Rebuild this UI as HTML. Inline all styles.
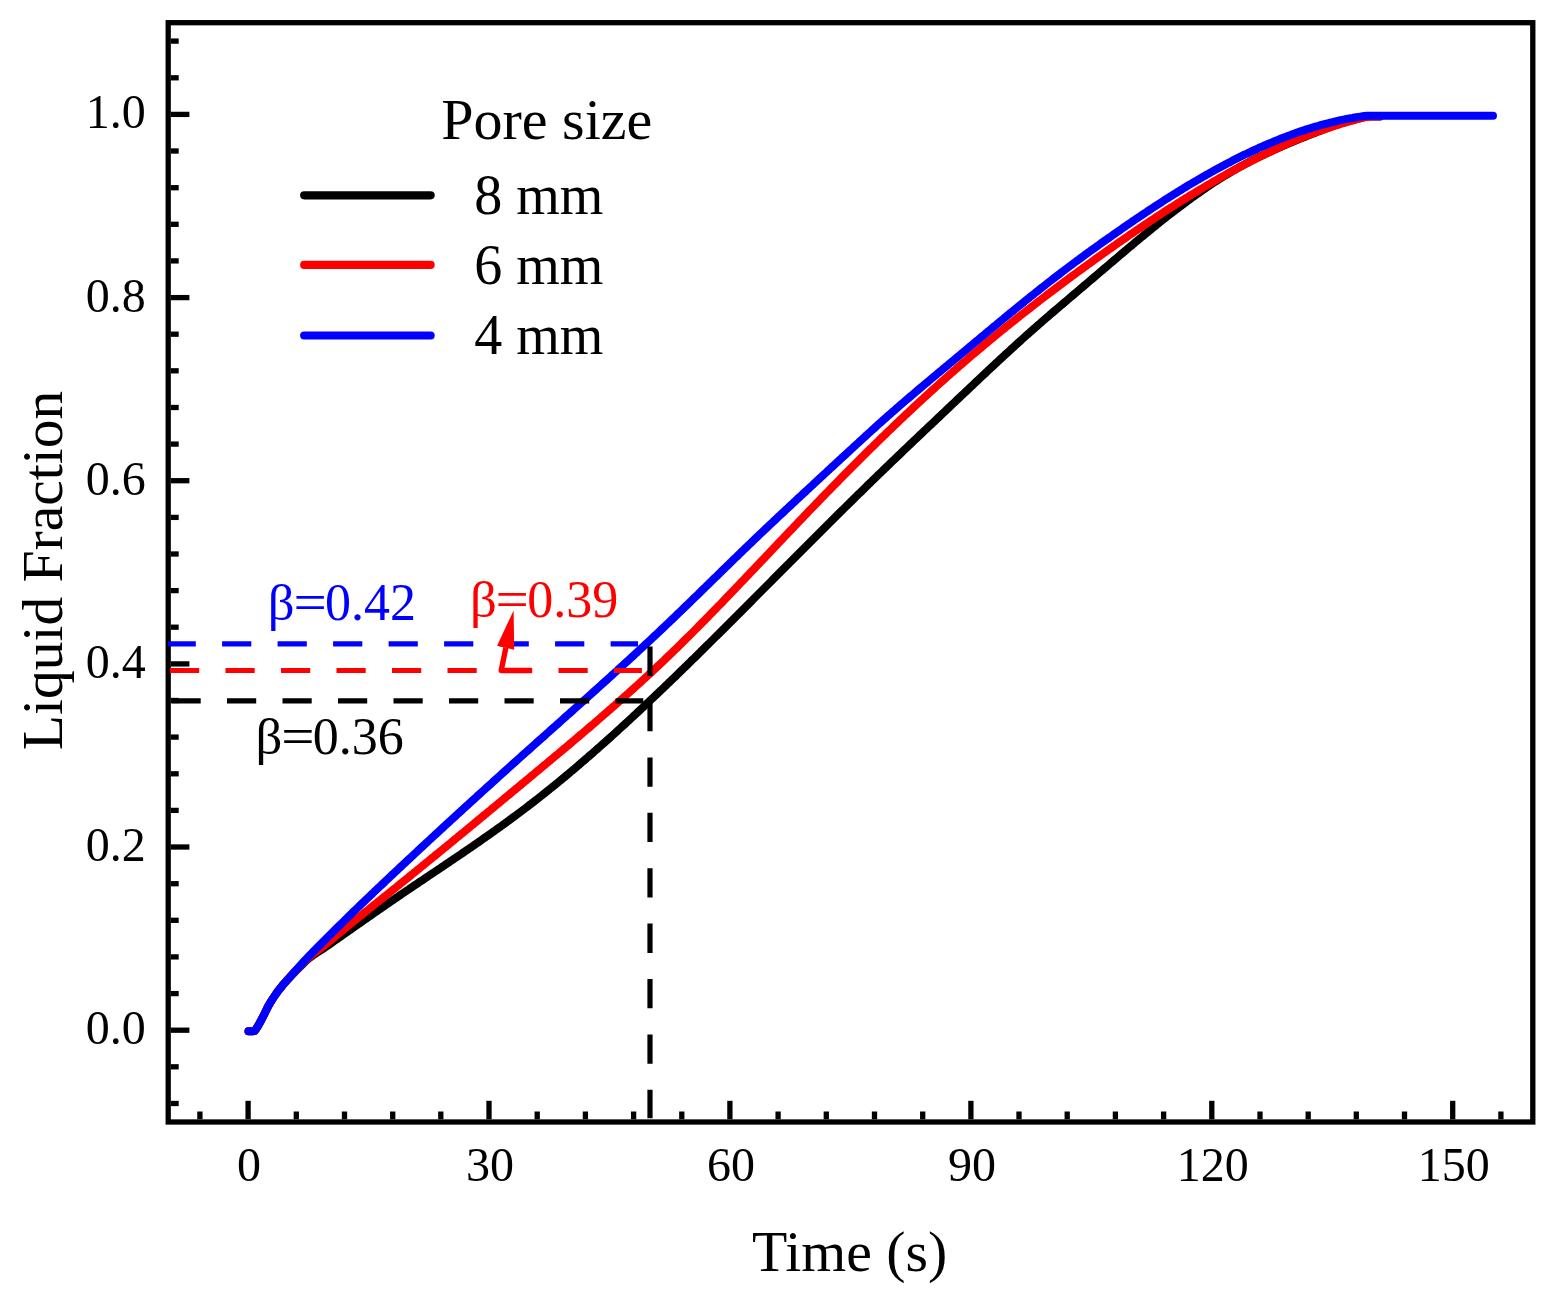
<!DOCTYPE html>
<html lang="en">
<head>
<meta charset="utf-8">
<title>Liquid Fraction vs Time</title>
<style>
html,body{margin:0;padding:0;background:#fff;}
body{width:1547px;height:1304px;overflow:hidden;}
svg{display:block;}
</style>
</head>
<body>
<svg width="1547" height="1304" viewBox="0 0 1547 1304">
<rect width="1547" height="1304" fill="#fff"/>
<g stroke="#000" stroke-width="5.3" fill="none">
<line x1="170.8" y1="1103.5" x2="178.7" y2="1103.5"/>
<line x1="170.8" y1="1066.8" x2="178.7" y2="1066.8"/>
<line x1="170.8" y1="1030.2" x2="189.4" y2="1030.2"/>
<line x1="170.8" y1="993.6" x2="178.7" y2="993.6"/>
<line x1="170.8" y1="956.9" x2="178.7" y2="956.9"/>
<line x1="170.8" y1="920.3" x2="178.7" y2="920.3"/>
<line x1="170.8" y1="883.7" x2="178.7" y2="883.7"/>
<line x1="170.8" y1="847.0" x2="189.4" y2="847.0"/>
<line x1="170.8" y1="810.4" x2="178.7" y2="810.4"/>
<line x1="170.8" y1="773.8" x2="178.7" y2="773.8"/>
<line x1="170.8" y1="737.1" x2="178.7" y2="737.1"/>
<line x1="170.8" y1="700.5" x2="178.7" y2="700.5"/>
<line x1="170.8" y1="663.9" x2="189.4" y2="663.9"/>
<line x1="170.8" y1="627.2" x2="178.7" y2="627.2"/>
<line x1="170.8" y1="590.6" x2="178.7" y2="590.6"/>
<line x1="170.8" y1="554.0" x2="178.7" y2="554.0"/>
<line x1="170.8" y1="517.4" x2="178.7" y2="517.4"/>
<line x1="170.8" y1="480.7" x2="189.4" y2="480.7"/>
<line x1="170.8" y1="444.1" x2="178.7" y2="444.1"/>
<line x1="170.8" y1="407.5" x2="178.7" y2="407.5"/>
<line x1="170.8" y1="370.8" x2="178.7" y2="370.8"/>
<line x1="170.8" y1="334.2" x2="178.7" y2="334.2"/>
<line x1="170.8" y1="297.6" x2="189.4" y2="297.6"/>
<line x1="170.8" y1="260.9" x2="178.7" y2="260.9"/>
<line x1="170.8" y1="224.3" x2="178.7" y2="224.3"/>
<line x1="170.8" y1="187.7" x2="178.7" y2="187.7"/>
<line x1="170.8" y1="151.0" x2="178.7" y2="151.0"/>
<line x1="170.8" y1="114.4" x2="189.4" y2="114.4"/>
<line x1="170.8" y1="77.8" x2="178.7" y2="77.8"/>
<line x1="170.8" y1="41.1" x2="178.7" y2="41.1"/>
<line x1="199.9" y1="1119.3" x2="199.9" y2="1111.5"/>
<line x1="248.1" y1="1119.3" x2="248.1" y2="1100.8"/>
<line x1="296.3" y1="1119.3" x2="296.3" y2="1111.5"/>
<line x1="344.5" y1="1119.3" x2="344.5" y2="1111.5"/>
<line x1="392.7" y1="1119.3" x2="392.7" y2="1111.5"/>
<line x1="440.8" y1="1119.3" x2="440.8" y2="1111.5"/>
<line x1="489.0" y1="1119.3" x2="489.0" y2="1100.8"/>
<line x1="537.2" y1="1119.3" x2="537.2" y2="1111.5"/>
<line x1="585.4" y1="1119.3" x2="585.4" y2="1111.5"/>
<line x1="633.6" y1="1119.3" x2="633.6" y2="1111.5"/>
<line x1="681.8" y1="1119.3" x2="681.8" y2="1111.5"/>
<line x1="729.9" y1="1119.3" x2="729.9" y2="1100.8"/>
<line x1="778.1" y1="1119.3" x2="778.1" y2="1111.5"/>
<line x1="826.3" y1="1119.3" x2="826.3" y2="1111.5"/>
<line x1="874.5" y1="1119.3" x2="874.5" y2="1111.5"/>
<line x1="922.7" y1="1119.3" x2="922.7" y2="1111.5"/>
<line x1="970.9" y1="1119.3" x2="970.9" y2="1100.8"/>
<line x1="1019.0" y1="1119.3" x2="1019.0" y2="1111.5"/>
<line x1="1067.2" y1="1119.3" x2="1067.2" y2="1111.5"/>
<line x1="1115.4" y1="1119.3" x2="1115.4" y2="1111.5"/>
<line x1="1163.6" y1="1119.3" x2="1163.6" y2="1111.5"/>
<line x1="1211.8" y1="1119.3" x2="1211.8" y2="1100.8"/>
<line x1="1260.0" y1="1119.3" x2="1260.0" y2="1111.5"/>
<line x1="1308.2" y1="1119.3" x2="1308.2" y2="1111.5"/>
<line x1="1356.3" y1="1119.3" x2="1356.3" y2="1111.5"/>
<line x1="1404.5" y1="1119.3" x2="1404.5" y2="1111.5"/>
<line x1="1452.7" y1="1119.3" x2="1452.7" y2="1100.8"/>
<line x1="1500.9" y1="1119.3" x2="1500.9" y2="1111.5"/>
</g>
<path d="M248.5,1031.2 L250.5,1031.2 L252.5,1031.2 L254.5,1030.9 L256.5,1028.4 L258.5,1025.2 L260.5,1021.5 L262.5,1017.7 L264.5,1013.8 L266.5,1009.6 L268.5,1005.7 L270.5,1002.3 L272.5,999.1 L274.5,996.1 L276.5,993.2 L278.5,990.4 L280.5,987.9 L282.5,985.4 L284.5,983.1 L286.5,980.8 L288.5,978.7 L290.5,976.6 L292.5,974.5 L294.5,972.4 L296.5,970.3 L298.5,968.3 L300.5,966.3 L302.5,964.3 L304.5,962.3 L306.5,960.4 L308.5,958.7 L310.5,957.1 L312.5,955.7 L314.5,954.3 L316.5,953.0 L318.5,951.7 L320.5,950.4 L322.5,949.1 L324.5,947.8 L326.5,946.4 L328.5,945.1 L330.5,943.7 L332.5,942.2 L334.5,940.8 L336.5,939.4 L338.5,938.0 L340.5,936.6 L342.5,935.2 L344.5,933.8 L346.5,932.4 L348.5,931.0 L350.5,929.6 L352.5,928.2 L354.5,926.8 L356.5,925.4 L358.5,924.0 L360.5,922.6 L362.5,921.2 L364.5,919.8 L366.5,918.4 L368.5,917.0 L370.5,915.6 L372.5,914.2 L374.5,912.8 L376.5,911.4 L378.5,910.0 L380.5,908.6 L382.5,907.3 L384.5,905.9 L386.5,904.5 L388.5,903.1 L390.5,901.7 L392.5,900.4 L394.5,899.0 L396.5,897.6 L398.5,896.3 L400.5,894.9 L402.5,893.5 L404.5,892.2 L406.5,890.8 L408.5,889.5 L410.5,888.1 L412.5,886.8 L414.5,885.4 L416.5,884.1 L418.5,882.7 L420.5,881.4 L422.5,880.1 L424.5,878.7 L426.5,877.4 L428.5,876.0 L430.5,874.7 L432.5,873.3 L434.5,872.0 L436.5,870.7 L438.5,869.3 L440.5,868.0 L442.5,866.6 L444.5,865.3 L446.5,863.9 L448.5,862.6 L450.5,861.2 L452.5,859.9 L454.5,858.5 L456.5,857.2 L458.5,855.8 L460.5,854.5 L462.5,853.1 L464.5,851.7 L466.5,850.4 L468.5,849.0 L470.5,847.6 L472.5,846.3 L474.5,844.9 L476.5,843.5 L478.5,842.1 L480.5,840.7 L482.5,839.3 L484.5,837.9 L486.5,836.5 L488.5,835.1 L490.5,833.7 L492.5,832.3 L494.5,830.9 L496.5,829.4 L498.5,828.0 L500.5,826.6 L502.5,825.1 L504.5,823.7 L506.5,822.2 L508.5,820.8 L510.5,819.3 L512.5,817.8 L514.5,816.4 L516.5,814.9 L518.5,813.4 L520.5,811.9 L522.5,810.4 L524.5,808.9 L526.5,807.4 L528.5,805.8 L530.5,804.3 L532.5,802.7 L534.5,801.2 L536.5,799.6 L538.5,798.1 L540.5,796.5 L542.5,794.9 L544.5,793.3 L546.5,791.7 L548.5,790.1 L550.5,788.5 L552.5,786.9 L554.5,785.3 L556.5,783.7 L558.5,782.0 L560.5,780.4 L562.5,778.7 L564.5,777.1 L566.5,775.4 L568.5,773.7 L570.5,772.0 L572.5,770.4 L574.5,768.7 L576.5,767.0 L578.5,765.3 L580.5,763.5 L582.5,761.8 L584.5,760.1 L586.5,758.4 L588.5,756.6 L590.5,754.9 L592.5,753.2 L594.5,751.4 L596.5,749.6 L598.5,747.9 L600.5,746.1 L602.5,744.3 L604.5,742.6 L606.5,740.8 L608.5,739.0 L610.5,737.2 L612.5,735.4 L614.5,733.6 L616.5,731.8 L618.5,729.9 L620.5,728.1 L622.5,726.3 L624.5,724.5 L626.5,722.6 L628.5,720.8 L630.5,718.9 L632.5,717.1 L634.5,715.2 L636.5,713.4 L638.5,711.5 L640.5,709.6 L642.5,707.8 L644.5,705.9 L646.5,704.0 L648.5,702.1 L650.5,700.2 L652.5,698.3 L654.5,696.4 L656.5,694.5 L658.5,692.6 L660.5,690.7 L662.5,688.8 L664.5,686.9 L666.5,685.0 L668.5,683.0 L670.5,681.1 L672.5,679.2 L674.5,677.3 L676.5,675.3 L678.5,673.4 L680.5,671.4 L682.5,669.5 L684.5,667.5 L686.5,665.6 L688.5,663.6 L690.5,661.7 L692.5,659.7 L694.5,657.8 L696.5,655.8 L698.5,653.8 L700.5,651.9 L702.5,649.9 L704.5,647.9 L706.5,645.9 L708.5,644.0 L710.5,642.0 L712.5,640.0 L714.5,638.0 L716.5,636.0 L718.5,634.1 L720.5,632.1 L722.5,630.1 L724.5,628.1 L726.5,626.1 L728.5,624.1 L730.5,622.1 L732.5,620.1 L734.5,618.1 L736.5,616.1 L738.5,614.1 L740.5,612.1 L742.5,610.1 L744.5,608.1 L746.5,606.1 L748.5,604.1 L750.5,602.1 L752.5,600.1 L754.5,598.0 L756.5,596.0 L758.5,594.0 L760.5,592.0 L762.5,590.0 L764.5,588.0 L766.5,586.0 L768.5,584.0 L770.5,582.0 L772.5,579.9 L774.5,577.9 L776.5,575.9 L778.5,573.9 L780.5,571.9 L782.5,569.9 L784.5,567.9 L786.5,565.9 L788.5,563.9 L790.5,561.8 L792.5,559.8 L794.5,557.8 L796.5,555.8 L798.5,553.8 L800.5,551.8 L802.5,549.8 L804.5,547.8 L806.5,545.8 L808.5,543.8 L810.5,541.8 L812.5,539.8 L814.5,537.8 L816.5,535.8 L818.5,533.8 L820.5,531.8 L822.5,529.8 L824.5,527.8 L826.5,525.8 L828.5,523.8 L830.5,521.9 L832.5,519.9 L834.5,517.9 L836.5,515.9 L838.5,513.9 L840.5,511.9 L842.5,510.0 L844.5,508.0 L846.5,506.0 L848.5,504.1 L850.5,502.1 L852.5,500.1 L854.5,498.1 L856.5,496.2 L858.5,494.2 L860.5,492.3 L862.5,490.3 L864.5,488.3 L866.5,486.4 L868.5,484.4 L870.5,482.5 L872.5,480.5 L874.5,478.6 L876.5,476.7 L878.5,474.7 L880.5,472.8 L882.5,470.9 L884.5,468.9 L886.5,467.0 L888.5,465.1 L890.5,463.1 L892.5,461.2 L894.5,459.3 L896.5,457.4 L898.5,455.5 L900.5,453.6 L902.5,451.6 L904.5,449.7 L906.5,447.8 L908.5,445.9 L910.5,444.0 L912.5,442.1 L914.5,440.2 L916.5,438.3 L918.5,436.4 L920.5,434.5 L922.5,432.6 L924.5,430.7 L926.5,428.8 L928.5,426.9 L930.5,425.0 L932.5,423.2 L934.5,421.3 L936.5,419.4 L938.5,417.5 L940.5,415.6 L942.5,413.7 L944.5,411.8 L946.5,409.9 L948.5,408.0 L950.5,406.1 L952.5,404.2 L954.5,402.3 L956.5,400.4 L958.5,398.5 L960.5,396.6 L962.5,394.7 L964.5,392.9 L966.5,391.0 L968.5,389.1 L970.5,387.2 L972.5,385.3 L974.5,383.4 L976.5,381.5 L978.5,379.6 L980.5,377.7 L982.5,375.8 L984.5,374.0 L986.5,372.1 L988.5,370.2 L990.5,368.3 L992.5,366.5 L994.5,364.6 L996.5,362.7 L998.5,360.9 L1000.5,359.0 L1002.5,357.2 L1004.5,355.3 L1006.5,353.5 L1008.5,351.7 L1010.5,349.8 L1012.5,348.0 L1014.5,346.2 L1016.5,344.3 L1018.5,342.5 L1020.5,340.7 L1022.5,338.9 L1024.5,337.1 L1026.5,335.3 L1028.5,333.6 L1030.5,331.8 L1032.5,330.0 L1034.5,328.2 L1036.5,326.5 L1038.5,324.7 L1040.5,323.0 L1042.5,321.2 L1044.5,319.5 L1046.5,317.8 L1048.5,316.1 L1050.5,314.3 L1052.5,312.6 L1054.5,310.9 L1056.5,309.2 L1058.5,307.5 L1060.5,305.8 L1062.5,304.1 L1064.5,302.4 L1066.5,300.7 L1068.5,299.0 L1070.5,297.3 L1072.5,295.6 L1074.5,293.9 L1076.5,292.2 L1078.5,290.5 L1080.5,288.8 L1082.5,287.1 L1084.5,285.4 L1086.5,283.7 L1088.5,282.0 L1090.5,280.3 L1092.5,278.6 L1094.5,276.9 L1096.5,275.2 L1098.5,273.5 L1100.5,271.8 L1102.5,270.1 L1104.5,268.4 L1106.5,266.7 L1108.5,265.0 L1110.5,263.3 L1112.5,261.6 L1114.5,259.9 L1116.5,258.2 L1118.5,256.5 L1120.5,254.8 L1122.5,253.1 L1124.5,251.4 L1126.5,249.7 L1128.5,248.0 L1130.5,246.4 L1132.5,244.7 L1134.5,243.0 L1136.5,241.3 L1138.5,239.7 L1140.5,238.0 L1142.5,236.4 L1144.5,234.7 L1146.5,233.1 L1148.5,231.4 L1150.5,229.8 L1152.5,228.2 L1154.5,226.6 L1156.5,224.9 L1158.5,223.3 L1160.5,221.7 L1162.5,220.1 L1164.5,218.6 L1166.5,217.0 L1168.5,215.4 L1170.5,213.9 L1172.5,212.3 L1174.5,210.8 L1176.5,209.2 L1178.5,207.7 L1180.5,206.2 L1182.5,204.7 L1184.5,203.2 L1186.5,201.7 L1188.5,200.3 L1190.5,198.8 L1192.5,197.3 L1194.5,195.9 L1196.5,194.5 L1198.5,193.1 L1200.5,191.7 L1202.5,190.3 L1204.5,188.9 L1206.5,187.5 L1208.5,186.2 L1210.5,184.8 L1212.5,183.5 L1214.5,182.2 L1216.5,180.9 L1218.5,179.6 L1220.5,178.4 L1222.5,177.1 L1224.5,175.9 L1226.5,174.7 L1228.5,173.5 L1230.5,172.3 L1232.5,171.1 L1234.5,170.0 L1236.5,168.8 L1238.5,167.7 L1240.5,166.6 L1242.5,165.5 L1244.5,164.4 L1246.5,163.3 L1248.5,162.3 L1250.5,161.2 L1252.5,160.2 L1254.5,159.2 L1256.5,158.2 L1258.5,157.2 L1260.5,156.2 L1262.5,155.3 L1264.5,154.3 L1266.5,153.4 L1268.5,152.4 L1270.5,151.5 L1272.5,150.6 L1274.5,149.7 L1276.5,148.8 L1278.5,147.9 L1280.5,147.0 L1282.5,146.1 L1284.5,145.3 L1286.5,144.4 L1288.5,143.6 L1290.5,142.7 L1292.5,141.9 L1294.5,141.1 L1296.5,140.2 L1298.5,139.4 L1300.5,138.6 L1302.5,137.8 L1304.5,137.0 L1306.5,136.2 L1308.5,135.4 L1310.5,134.6 L1312.5,133.8 L1314.5,133.0 L1316.5,132.2 L1318.5,131.4 L1320.5,130.7 L1322.5,129.9 L1324.5,129.2 L1326.5,128.4 L1328.5,127.7 L1330.5,127.0 L1332.5,126.2 L1334.5,125.5 L1336.5,124.9 L1338.5,124.2 L1340.5,123.5 L1342.5,122.9 L1344.5,122.3 L1346.5,121.7 L1348.5,121.1 L1350.5,120.5 L1352.5,120.0 L1354.5,119.5 L1356.5,119.0 L1358.5,118.5 L1360.5,118.0 L1362.5,117.6 L1364.5,117.2 L1366.5,116.8 L1368.5,116.5 L1370.5,116.5 L1372.5,116.5 L1373.0,116.5 L1380.0,116.5" fill="none" stroke="#000" stroke-width="8.0" stroke-linecap="round" stroke-linejoin="round"/>
<path d="M248.5,1031.2 L250.5,1031.2 L252.5,1031.2 L254.5,1030.9 L256.5,1028.4 L258.5,1025.2 L260.5,1021.5 L262.5,1017.7 L264.5,1013.8 L266.5,1009.6 L268.5,1005.7 L270.5,1002.3 L272.5,999.1 L274.5,996.1 L276.5,993.2 L278.5,990.4 L280.5,987.9 L282.5,985.4 L284.5,983.1 L286.5,980.8 L288.5,978.6 L290.5,976.4 L292.5,974.3 L294.5,972.1 L296.5,970.0 L298.5,967.9 L300.5,965.8 L302.5,963.7 L304.5,961.7 L306.5,959.7 L308.5,957.9 L310.5,956.2 L312.5,954.6 L314.5,953.0 L316.5,951.5 L318.5,950.1 L320.5,948.6 L322.5,947.0 L324.5,945.5 L326.5,943.9 L328.5,942.2 L330.5,940.6 L332.5,938.9 L334.5,937.2 L336.5,935.5 L338.5,933.8 L340.5,932.1 L342.5,930.5 L344.5,928.8 L346.5,927.2 L348.5,925.6 L350.5,924.0 L352.5,922.3 L354.5,920.7 L356.5,919.1 L358.5,917.5 L360.5,915.9 L362.5,914.3 L364.5,912.7 L366.5,911.1 L368.5,909.5 L370.5,907.9 L372.5,906.2 L374.5,904.6 L376.5,903.0 L378.5,901.4 L380.5,899.8 L382.5,898.2 L384.5,896.6 L386.5,895.0 L388.5,893.4 L390.5,891.8 L392.5,890.2 L394.5,888.6 L396.5,887.0 L398.5,885.3 L400.5,883.7 L402.5,882.1 L404.5,880.5 L406.5,878.9 L408.5,877.3 L410.5,875.6 L412.5,874.0 L414.5,872.4 L416.5,870.8 L418.5,869.1 L420.5,867.5 L422.5,865.9 L424.5,864.2 L426.5,862.6 L428.5,861.0 L430.5,859.3 L432.5,857.7 L434.5,856.1 L436.5,854.4 L438.5,852.8 L440.5,851.2 L442.5,849.5 L444.5,847.9 L446.5,846.3 L448.5,844.6 L450.5,843.0 L452.5,841.3 L454.5,839.7 L456.5,838.0 L458.5,836.4 L460.5,834.7 L462.5,833.1 L464.5,831.5 L466.5,829.8 L468.5,828.2 L470.5,826.5 L472.5,824.9 L474.5,823.2 L476.5,821.6 L478.5,819.9 L480.5,818.2 L482.5,816.6 L484.5,814.9 L486.5,813.3 L488.5,811.6 L490.5,810.0 L492.5,808.3 L494.5,806.7 L496.5,805.0 L498.5,803.4 L500.5,801.7 L502.5,800.0 L504.5,798.4 L506.5,796.7 L508.5,795.1 L510.5,793.4 L512.5,791.7 L514.5,790.1 L516.5,788.4 L518.5,786.8 L520.5,785.1 L522.5,783.4 L524.5,781.8 L526.5,780.1 L528.5,778.5 L530.5,776.8 L532.5,775.1 L534.5,773.5 L536.5,771.8 L538.5,770.1 L540.5,768.5 L542.5,766.8 L544.5,765.1 L546.5,763.5 L548.5,761.8 L550.5,760.1 L552.5,758.5 L554.5,756.8 L556.5,755.1 L558.5,753.5 L560.5,751.8 L562.5,750.1 L564.5,748.4 L566.5,746.8 L568.5,745.1 L570.5,743.4 L572.5,741.7 L574.5,740.0 L576.5,738.3 L578.5,736.6 L580.5,734.9 L582.5,733.2 L584.5,731.5 L586.5,729.8 L588.5,728.1 L590.5,726.4 L592.5,724.7 L594.5,723.0 L596.5,721.2 L598.5,719.5 L600.5,717.8 L602.5,716.0 L604.5,714.3 L606.5,712.6 L608.5,710.8 L610.5,709.1 L612.5,707.3 L614.5,705.6 L616.5,703.8 L618.5,702.0 L620.5,700.3 L622.5,698.5 L624.5,696.7 L626.5,694.9 L628.5,693.1 L630.5,691.3 L632.5,689.5 L634.5,687.7 L636.5,685.9 L638.5,684.1 L640.5,682.3 L642.5,680.4 L644.5,678.6 L646.5,676.7 L648.5,674.9 L650.5,673.0 L652.5,671.2 L654.5,669.3 L656.5,667.4 L658.5,665.5 L660.5,663.7 L662.5,661.8 L664.5,659.9 L666.5,657.9 L668.5,656.0 L670.5,654.1 L672.5,652.2 L674.5,650.2 L676.5,648.3 L678.5,646.3 L680.5,644.4 L682.5,642.4 L684.5,640.4 L686.5,638.4 L688.5,636.5 L690.5,634.5 L692.5,632.5 L694.5,630.5 L696.5,628.5 L698.5,626.4 L700.5,624.4 L702.5,622.4 L704.5,620.4 L706.5,618.3 L708.5,616.3 L710.5,614.2 L712.5,612.2 L714.5,610.1 L716.5,608.1 L718.5,606.0 L720.5,604.0 L722.5,601.9 L724.5,599.8 L726.5,597.7 L728.5,595.7 L730.5,593.6 L732.5,591.5 L734.5,589.4 L736.5,587.3 L738.5,585.2 L740.5,583.1 L742.5,581.0 L744.5,578.9 L746.5,576.8 L748.5,574.7 L750.5,572.6 L752.5,570.5 L754.5,568.4 L756.5,566.3 L758.5,564.2 L760.5,562.1 L762.5,560.0 L764.5,557.9 L766.5,555.8 L768.5,553.7 L770.5,551.5 L772.5,549.4 L774.5,547.3 L776.5,545.2 L778.5,543.1 L780.5,541.0 L782.5,538.9 L784.5,536.8 L786.5,534.7 L788.5,532.6 L790.5,530.5 L792.5,528.4 L794.5,526.3 L796.5,524.2 L798.5,522.1 L800.5,520.0 L802.5,517.9 L804.5,515.8 L806.5,513.7 L808.5,511.6 L810.5,509.5 L812.5,507.5 L814.5,505.4 L816.5,503.3 L818.5,501.3 L820.5,499.2 L822.5,497.1 L824.5,495.1 L826.5,493.0 L828.5,491.0 L830.5,488.9 L832.5,486.9 L834.5,484.8 L836.5,482.8 L838.5,480.8 L840.5,478.7 L842.5,476.7 L844.5,474.7 L846.5,472.7 L848.5,470.6 L850.5,468.6 L852.5,466.6 L854.5,464.6 L856.5,462.6 L858.5,460.6 L860.5,458.6 L862.5,456.6 L864.5,454.7 L866.5,452.7 L868.5,450.7 L870.5,448.7 L872.5,446.8 L874.5,444.8 L876.5,442.8 L878.5,440.9 L880.5,438.9 L882.5,437.0 L884.5,435.1 L886.5,433.1 L888.5,431.2 L890.5,429.3 L892.5,427.4 L894.5,425.4 L896.5,423.5 L898.5,421.6 L900.5,419.7 L902.5,417.8 L904.5,415.9 L906.5,414.0 L908.5,412.2 L910.5,410.3 L912.5,408.4 L914.5,406.5 L916.5,404.7 L918.5,402.8 L920.5,401.0 L922.5,399.1 L924.5,397.3 L926.5,395.5 L928.5,393.6 L930.5,391.8 L932.5,390.0 L934.5,388.2 L936.5,386.4 L938.5,384.6 L940.5,382.8 L942.5,381.0 L944.5,379.2 L946.5,377.4 L948.5,375.6 L950.5,373.9 L952.5,372.1 L954.5,370.4 L956.5,368.6 L958.5,366.9 L960.5,365.1 L962.5,363.4 L964.5,361.7 L966.5,360.0 L968.5,358.2 L970.5,356.5 L972.5,354.8 L974.5,353.1 L976.5,351.4 L978.5,349.8 L980.5,348.1 L982.5,346.4 L984.5,344.7 L986.5,343.1 L988.5,341.4 L990.5,339.7 L992.5,338.1 L994.5,336.5 L996.5,334.8 L998.5,333.2 L1000.5,331.5 L1002.5,329.9 L1004.5,328.3 L1006.5,326.7 L1008.5,325.1 L1010.5,323.5 L1012.5,321.9 L1014.5,320.3 L1016.5,318.7 L1018.5,317.1 L1020.5,315.5 L1022.5,313.9 L1024.5,312.4 L1026.5,310.8 L1028.5,309.2 L1030.5,307.7 L1032.5,306.1 L1034.5,304.6 L1036.5,303.0 L1038.5,301.5 L1040.5,299.9 L1042.5,298.4 L1044.5,296.9 L1046.5,295.3 L1048.5,293.8 L1050.5,292.3 L1052.5,290.8 L1054.5,289.3 L1056.5,287.8 L1058.5,286.3 L1060.5,284.8 L1062.5,283.3 L1064.5,281.8 L1066.5,280.3 L1068.5,278.8 L1070.5,277.3 L1072.5,275.8 L1074.5,274.4 L1076.5,272.9 L1078.5,271.4 L1080.5,270.0 L1082.5,268.5 L1084.5,267.0 L1086.5,265.6 L1088.5,264.1 L1090.5,262.7 L1092.5,261.2 L1094.5,259.8 L1096.5,258.3 L1098.5,256.9 L1100.5,255.5 L1102.5,254.1 L1104.5,252.6 L1106.5,251.2 L1108.5,249.8 L1110.5,248.4 L1112.5,247.0 L1114.5,245.6 L1116.5,244.1 L1118.5,242.7 L1120.5,241.4 L1122.5,240.0 L1124.5,238.6 L1126.5,237.2 L1128.5,235.8 L1130.5,234.4 L1132.5,233.1 L1134.5,231.7 L1136.5,230.3 L1138.5,229.0 L1140.5,227.6 L1142.5,226.3 L1144.5,224.9 L1146.5,223.6 L1148.5,222.2 L1150.5,220.9 L1152.5,219.6 L1154.5,218.3 L1156.5,216.9 L1158.5,215.6 L1160.5,214.3 L1162.5,213.0 L1164.5,211.7 L1166.5,210.4 L1168.5,209.1 L1170.5,207.8 L1172.5,206.6 L1174.5,205.3 L1176.5,204.0 L1178.5,202.8 L1180.5,201.5 L1182.5,200.3 L1184.5,199.0 L1186.5,197.8 L1188.5,196.5 L1190.5,195.3 L1192.5,194.1 L1194.5,192.9 L1196.5,191.7 L1198.5,190.5 L1200.5,189.3 L1202.5,188.1 L1204.5,186.9 L1206.5,185.7 L1208.5,184.5 L1210.5,183.4 L1212.5,182.2 L1214.5,181.0 L1216.5,179.9 L1218.5,178.7 L1220.5,177.6 L1222.5,176.5 L1224.5,175.4 L1226.5,174.2 L1228.5,173.1 L1230.5,172.0 L1232.5,170.9 L1234.5,169.8 L1236.5,168.8 L1238.5,167.7 L1240.5,166.6 L1242.5,165.6 L1244.5,164.5 L1246.5,163.5 L1248.5,162.4 L1250.5,161.4 L1252.5,160.4 L1254.5,159.3 L1256.5,158.3 L1258.5,157.3 L1260.5,156.3 L1262.5,155.4 L1264.5,154.4 L1266.5,153.4 L1268.5,152.5 L1270.5,151.5 L1272.5,150.6 L1274.5,149.6 L1276.5,148.7 L1278.5,147.8 L1280.5,146.9 L1282.5,146.0 L1284.5,145.1 L1286.5,144.2 L1288.5,143.3 L1290.5,142.4 L1292.5,141.6 L1294.5,140.7 L1296.5,139.9 L1298.5,139.1 L1300.5,138.3 L1302.5,137.4 L1304.5,136.6 L1306.5,135.9 L1308.5,135.1 L1310.5,134.3 L1312.5,133.5 L1314.5,132.8 L1316.5,132.0 L1318.5,131.3 L1320.5,130.6 L1322.5,129.9 L1324.5,129.2 L1326.5,128.5 L1328.5,127.8 L1330.5,127.1 L1332.5,126.5 L1334.5,125.8 L1336.5,125.2 L1338.5,124.6 L1340.5,124.0 L1342.5,123.3 L1344.5,122.8 L1346.5,122.2 L1348.5,121.6 L1350.5,121.0 L1352.5,120.5 L1354.5,120.0 L1356.5,119.4 L1358.5,118.9 L1360.5,118.4 L1362.5,117.9 L1364.5,117.4 L1366.5,117.0 L1368.5,116.5 L1370.5,116.5 L1372.5,116.5 L1373.0,116.5 L1380.0,116.5" fill="none" stroke="#f00" stroke-width="8.0" stroke-linecap="round" stroke-linejoin="round"/>
<path d="M248.5,1031.2 L250.5,1031.2 L252.5,1031.2 L254.5,1030.9 L256.5,1028.4 L258.5,1025.2 L260.5,1021.5 L262.5,1017.7 L264.5,1013.8 L266.5,1009.6 L268.5,1005.7 L270.5,1002.3 L272.5,999.1 L274.5,996.1 L276.5,993.2 L278.5,990.4 L280.5,987.9 L282.5,985.4 L284.5,983.1 L286.5,980.8 L288.5,978.6 L290.5,976.3 L292.5,974.0 L294.5,971.8 L296.5,969.6 L298.5,967.4 L300.5,965.2 L302.5,963.0 L304.5,960.8 L306.5,958.7 L308.5,956.6 L310.5,954.5 L312.5,952.4 L314.5,950.4 L316.5,948.3 L318.5,946.3 L320.5,944.3 L322.5,942.3 L324.5,940.3 L326.5,938.3 L328.5,936.3 L330.5,934.3 L332.5,932.4 L334.5,930.4 L336.5,928.4 L338.5,926.4 L340.5,924.5 L342.5,922.5 L344.5,920.5 L346.5,918.6 L348.5,916.6 L350.5,914.6 L352.5,912.7 L354.5,910.7 L356.5,908.8 L358.5,906.9 L360.5,904.9 L362.5,903.0 L364.5,901.1 L366.5,899.2 L368.5,897.3 L370.5,895.4 L372.5,893.5 L374.5,891.5 L376.5,889.6 L378.5,887.7 L380.5,885.9 L382.5,884.0 L384.5,882.1 L386.5,880.2 L388.5,878.3 L390.5,876.4 L392.5,874.5 L394.5,872.6 L396.5,870.8 L398.5,868.9 L400.5,867.0 L402.5,865.1 L404.5,863.3 L406.5,861.4 L408.5,859.5 L410.5,857.7 L412.5,855.8 L414.5,853.9 L416.5,852.1 L418.5,850.2 L420.5,848.3 L422.5,846.5 L424.5,844.6 L426.5,842.8 L428.5,840.9 L430.5,839.1 L432.5,837.2 L434.5,835.4 L436.5,833.5 L438.5,831.7 L440.5,829.8 L442.5,828.0 L444.5,826.1 L446.5,824.3 L448.5,822.5 L450.5,820.6 L452.5,818.8 L454.5,817.0 L456.5,815.1 L458.5,813.3 L460.5,811.5 L462.5,809.6 L464.5,807.8 L466.5,806.0 L468.5,804.2 L470.5,802.3 L472.5,800.5 L474.5,798.7 L476.5,796.9 L478.5,795.0 L480.5,793.2 L482.5,791.4 L484.5,789.6 L486.5,787.8 L488.5,786.0 L490.5,784.2 L492.5,782.4 L494.5,780.5 L496.5,778.7 L498.5,776.9 L500.5,775.1 L502.5,773.3 L504.5,771.5 L506.5,769.7 L508.5,767.9 L510.5,766.1 L512.5,764.3 L514.5,762.5 L516.5,760.7 L518.5,758.9 L520.5,757.1 L522.5,755.3 L524.5,753.5 L526.5,751.8 L528.5,750.0 L530.5,748.2 L532.5,746.4 L534.5,744.6 L536.5,742.8 L538.5,741.0 L540.5,739.2 L542.5,737.5 L544.5,735.7 L546.5,733.9 L548.5,732.1 L550.5,730.3 L552.5,728.5 L554.5,726.7 L556.5,725.0 L558.5,723.2 L560.5,721.4 L562.5,719.6 L564.5,717.8 L566.5,716.0 L568.5,714.3 L570.5,712.5 L572.5,710.7 L574.5,708.9 L576.5,707.1 L578.5,705.3 L580.5,703.5 L582.5,701.8 L584.5,700.0 L586.5,698.2 L588.5,696.4 L590.5,694.6 L592.5,692.8 L594.5,691.0 L596.5,689.2 L598.5,687.4 L600.5,685.6 L602.5,683.8 L604.5,682.0 L606.5,680.2 L608.5,678.4 L610.5,676.6 L612.5,674.7 L614.5,672.9 L616.5,671.1 L618.5,669.3 L620.5,667.5 L622.5,665.6 L624.5,663.8 L626.5,662.0 L628.5,660.2 L630.5,658.3 L632.5,656.5 L634.5,654.6 L636.5,652.8 L638.5,650.9 L640.5,649.1 L642.5,647.2 L644.5,645.4 L646.5,643.5 L648.5,641.7 L650.5,639.8 L652.5,637.9 L654.5,636.0 L656.5,634.2 L658.5,632.3 L660.5,630.4 L662.5,628.5 L664.5,626.6 L666.5,624.7 L668.5,622.8 L670.5,620.9 L672.5,619.0 L674.5,617.1 L676.5,615.2 L678.5,613.2 L680.5,611.3 L682.5,609.4 L684.5,607.4 L686.5,605.5 L688.5,603.6 L690.5,601.6 L692.5,599.7 L694.5,597.7 L696.5,595.8 L698.5,593.9 L700.5,591.9 L702.5,589.9 L704.5,588.0 L706.5,586.0 L708.5,584.1 L710.5,582.1 L712.5,580.2 L714.5,578.2 L716.5,576.3 L718.5,574.3 L720.5,572.4 L722.5,570.4 L724.5,568.5 L726.5,566.5 L728.5,564.6 L730.5,562.6 L732.5,560.7 L734.5,558.7 L736.5,556.8 L738.5,554.8 L740.5,552.9 L742.5,551.0 L744.5,549.0 L746.5,547.1 L748.5,545.2 L750.5,543.3 L752.5,541.3 L754.5,539.4 L756.5,537.5 L758.5,535.6 L760.5,533.7 L762.5,531.8 L764.5,529.9 L766.5,528.0 L768.5,526.1 L770.5,524.2 L772.5,522.4 L774.5,520.5 L776.5,518.6 L778.5,516.7 L780.5,514.8 L782.5,513.0 L784.5,511.1 L786.5,509.2 L788.5,507.4 L790.5,505.5 L792.5,503.6 L794.5,501.8 L796.5,499.9 L798.5,498.0 L800.5,496.2 L802.5,494.3 L804.5,492.5 L806.5,490.6 L808.5,488.8 L810.5,486.9 L812.5,485.1 L814.5,483.2 L816.5,481.3 L818.5,479.5 L820.5,477.6 L822.5,475.8 L824.5,473.9 L826.5,472.1 L828.5,470.2 L830.5,468.4 L832.5,466.5 L834.5,464.7 L836.5,462.8 L838.5,461.0 L840.5,459.1 L842.5,457.3 L844.5,455.5 L846.5,453.6 L848.5,451.8 L850.5,449.9 L852.5,448.1 L854.5,446.2 L856.5,444.4 L858.5,442.6 L860.5,440.7 L862.5,438.9 L864.5,437.1 L866.5,435.2 L868.5,433.4 L870.5,431.6 L872.5,429.8 L874.5,428.0 L876.5,426.1 L878.5,424.3 L880.5,422.6 L882.5,420.8 L884.5,419.0 L886.5,417.2 L888.5,415.4 L890.5,413.7 L892.5,411.9 L894.5,410.2 L896.5,408.4 L898.5,406.7 L900.5,404.9 L902.5,403.2 L904.5,401.5 L906.5,399.8 L908.5,398.1 L910.5,396.4 L912.5,394.7 L914.5,393.0 L916.5,391.3 L918.5,389.6 L920.5,387.9 L922.5,386.2 L924.5,384.5 L926.5,382.9 L928.5,381.2 L930.5,379.5 L932.5,377.8 L934.5,376.2 L936.5,374.5 L938.5,372.8 L940.5,371.2 L942.5,369.5 L944.5,367.8 L946.5,366.2 L948.5,364.5 L950.5,362.8 L952.5,361.2 L954.5,359.5 L956.5,357.8 L958.5,356.2 L960.5,354.5 L962.5,352.8 L964.5,351.2 L966.5,349.5 L968.5,347.8 L970.5,346.1 L972.5,344.5 L974.5,342.8 L976.5,341.1 L978.5,339.5 L980.5,337.8 L982.5,336.1 L984.5,334.5 L986.5,332.8 L988.5,331.1 L990.5,329.5 L992.5,327.8 L994.5,326.1 L996.5,324.5 L998.5,322.8 L1000.5,321.2 L1002.5,319.5 L1004.5,317.9 L1006.5,316.2 L1008.5,314.6 L1010.5,312.9 L1012.5,311.3 L1014.5,309.7 L1016.5,308.0 L1018.5,306.4 L1020.5,304.8 L1022.5,303.2 L1024.5,301.5 L1026.5,299.9 L1028.5,298.3 L1030.5,296.7 L1032.5,295.1 L1034.5,293.5 L1036.5,291.9 L1038.5,290.3 L1040.5,288.7 L1042.5,287.1 L1044.5,285.6 L1046.5,284.0 L1048.5,282.4 L1050.5,280.9 L1052.5,279.3 L1054.5,277.8 L1056.5,276.2 L1058.5,274.7 L1060.5,273.2 L1062.5,271.6 L1064.5,270.1 L1066.5,268.6 L1068.5,267.1 L1070.5,265.6 L1072.5,264.1 L1074.5,262.6 L1076.5,261.1 L1078.5,259.7 L1080.5,258.2 L1082.5,256.7 L1084.5,255.3 L1086.5,253.8 L1088.5,252.4 L1090.5,250.9 L1092.5,249.5 L1094.5,248.1 L1096.5,246.6 L1098.5,245.2 L1100.5,243.8 L1102.5,242.3 L1104.5,240.9 L1106.5,239.5 L1108.5,238.1 L1110.5,236.7 L1112.5,235.3 L1114.5,233.9 L1116.5,232.5 L1118.5,231.1 L1120.5,229.7 L1122.5,228.3 L1124.5,226.9 L1126.5,225.5 L1128.5,224.1 L1130.5,222.8 L1132.5,221.4 L1134.5,220.0 L1136.5,218.7 L1138.5,217.3 L1140.5,216.0 L1142.5,214.6 L1144.5,213.3 L1146.5,212.0 L1148.5,210.6 L1150.5,209.3 L1152.5,208.0 L1154.5,206.7 L1156.5,205.4 L1158.5,204.1 L1160.5,202.8 L1162.5,201.5 L1164.5,200.2 L1166.5,198.9 L1168.5,197.7 L1170.5,196.4 L1172.5,195.2 L1174.5,193.9 L1176.5,192.7 L1178.5,191.4 L1180.5,190.2 L1182.5,189.0 L1184.5,187.7 L1186.5,186.5 L1188.5,185.3 L1190.5,184.1 L1192.5,182.9 L1194.5,181.8 L1196.5,180.6 L1198.5,179.4 L1200.5,178.3 L1202.5,177.1 L1204.5,176.0 L1206.5,174.8 L1208.5,173.7 L1210.5,172.6 L1212.5,171.4 L1214.5,170.3 L1216.5,169.2 L1218.5,168.1 L1220.5,167.1 L1222.5,166.0 L1224.5,164.9 L1226.5,163.9 L1228.5,162.8 L1230.5,161.8 L1232.5,160.7 L1234.5,159.7 L1236.5,158.7 L1238.5,157.7 L1240.5,156.7 L1242.5,155.7 L1244.5,154.7 L1246.5,153.8 L1248.5,152.8 L1250.5,151.9 L1252.5,150.9 L1254.5,150.0 L1256.5,149.1 L1258.5,148.2 L1260.5,147.2 L1262.5,146.4 L1264.5,145.5 L1266.5,144.6 L1268.5,143.7 L1270.5,142.9 L1272.5,142.1 L1274.5,141.2 L1276.5,140.4 L1278.5,139.6 L1280.5,138.8 L1282.5,138.0 L1284.5,137.2 L1286.5,136.5 L1288.5,135.7 L1290.5,135.0 L1292.5,134.2 L1294.5,133.5 L1296.5,132.8 L1298.5,132.1 L1300.5,131.4 L1302.5,130.7 L1304.5,130.1 L1306.5,129.4 L1308.5,128.8 L1310.5,128.2 L1312.5,127.5 L1314.5,126.9 L1316.5,126.3 L1318.5,125.8 L1320.5,125.2 L1322.5,124.6 L1324.5,124.1 L1326.5,123.6 L1328.5,123.1 L1330.5,122.5 L1332.5,122.1 L1334.5,121.6 L1336.5,121.1 L1338.5,120.7 L1340.5,120.2 L1342.5,119.8 L1344.5,119.4 L1346.5,119.0 L1348.5,118.6 L1350.5,118.2 L1352.5,117.9 L1354.5,117.5 L1356.5,117.2 L1358.5,116.9 L1360.5,116.6 L1362.5,116.3 L1364.5,116.0 L1366.5,115.8 L1368.2,115.8 L1493.0,115.8" fill="none" stroke="#00f" stroke-width="8.0" stroke-linecap="round" stroke-linejoin="round"/>
<rect x="168.2" y="22.7" width="1364.6" height="1099.3" fill="none" stroke="#000" stroke-width="5.3"/>
<g fill="none" stroke-width="5.2" stroke-dasharray="29.2 26.3">
<line x1="168.1" y1="643.8" x2="638.0" y2="643.8" stroke="#00f" stroke-dashoffset="1.5"/>
<line x1="170.0" y1="670.5" x2="641.9" y2="670.5" stroke="#f00"/>
<line x1="171.5" y1="700.9" x2="643.3" y2="700.9" stroke="#000"/>
<line x1="650.0" y1="646.6" x2="650.0" y2="1118.2" stroke="#000" stroke-dasharray="29.3 26.1"/>
</g>
<path d="M505.9,647.5 L501.2,670.5 L531.8,670.5" fill="none" stroke="#f00" stroke-width="5.4" stroke-linejoin="round"/>
<polygon points="513.6,610.4 514.2,649.7 497.1,645.7" fill="#f00"/>
<line x1="304.2" y1="195.3" x2="430.6" y2="195.3" stroke="#000" stroke-width="8.2" stroke-linecap="round"/>
<line x1="304.2" y1="264.9" x2="430.6" y2="264.9" stroke="#f00" stroke-width="8.2" stroke-linecap="round"/>
<line x1="304.2" y1="335.5" x2="430.6" y2="335.5" stroke="#00f" stroke-width="8.2" stroke-linecap="round"/>
<g font-family="Liberation Serif, Times New Roman, serif" fill="#000">
<text x="441.3" y="138.6" font-size="58">Pore size</text>
<g font-size="56">
<text x="474.2" y="213.7">8 mm</text>
<text x="474.2" y="283.9">6 mm</text>
<text x="474.2" y="353.9">4 mm</text>
</g>
<text x="849.6" y="1271.3" font-size="57.8" text-anchor="middle">Time (s)</text>
<text transform="translate(62.0,570.5) rotate(-90)" font-size="57.5" text-anchor="middle">Liquid Fraction</text>
<g font-size="48">
<text x="249.1" y="1181" text-anchor="middle">0</text>
<text x="490.0" y="1181" text-anchor="middle">30</text>
<text x="730.9" y="1181" text-anchor="middle">60</text>
<text x="971.9" y="1181" text-anchor="middle">90</text>
<text x="1212.8" y="1181" text-anchor="middle">120</text>
<text x="1453.7" y="1181" text-anchor="middle">150</text>
<text x="145.8" y="1044.2" text-anchor="end">0.0</text>
<text x="145.8" y="861.0" text-anchor="end">0.2</text>
<text x="145.8" y="677.9" text-anchor="end">0.4</text>
<text x="145.8" y="494.7" text-anchor="end">0.6</text>
<text x="145.8" y="311.6" text-anchor="end">0.8</text>
<text x="145.8" y="128.4" text-anchor="end">1.0</text>
</g>
<g fill="#00f">
<text transform="translate(267.7,619.8) scale(1.057,1)" font-size="50">β</text>
<text transform="translate(293.4,619.8) scale(1.136,1)" font-size="52">=</text>
<text x="325.0" y="619.8" font-size="52">0.42</text>
</g>
<g fill="#f00">
<text transform="translate(469.9,617.0) scale(1.057,1)" font-size="50">β</text>
<text transform="translate(495.6,617.0) scale(1.136,1)" font-size="52">=</text>
<text x="527.2" y="617.0" font-size="52">0.39</text>
</g>
<g fill="#000">
<text transform="translate(255.5,753.5) scale(1.057,1)" font-size="50">β</text>
<text transform="translate(281.2,753.5) scale(1.136,1)" font-size="52">=</text>
<text x="312.8" y="753.5" font-size="52">0.36</text>
</g>
</g>
</svg>
</body>
</html>
